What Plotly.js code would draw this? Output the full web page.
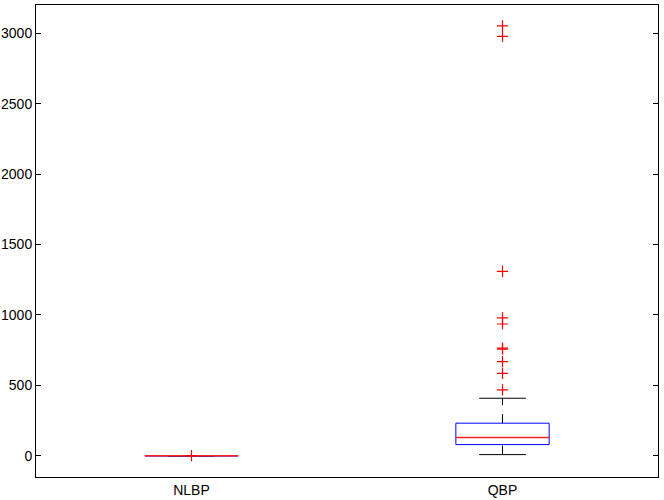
<!DOCTYPE html>
<html>
<head>
<meta charset="utf-8">
<script src="https://cdn.plot.ly/plotly-3.0.1.min.js"></script>
<style>
  html, body { margin: 0; padding: 0; background: #ffffff; }
  #plot { width: 664px; height: 500px; }
</style>
</head>
<body>
<div id="plot"></div>
<script>
const categories = ['NLBP', 'QBP'];
const positions = [1, 2];
const lowerWhisker = [0, 9];
const q1 = [0, 80];
const median = [0, 130];
const q3 = [0, 232];
const upperWhisker = [0, 409];
const outliers = [
  [2],
  [3052, 2977, 1310, 979, 936, 765, 757, 669, 586, 468],
];

const boxHalf = 0.15;
const capHalf = 0.075;

// line segments for one element type, separated by nulls
function segments(build) {
  const x = [];
  const y = [];
  positions.forEach((pos, i) => {
    build(pos, i).forEach((seg) => {
      x.push(...seg.x, null);
      y.push(...seg.y, null);
    });
  });
  return { x, y };
}

const whiskers = segments((pos, i) => [
  { x: [pos, pos], y: [q3[i], upperWhisker[i]] },
  { x: [pos, pos], y: [lowerWhisker[i], q1[i]] },
]);
const caps = segments((pos, i) => [
  { x: [pos - capHalf, pos + capHalf], y: [upperWhisker[i], upperWhisker[i]] },
  { x: [pos - capHalf, pos + capHalf], y: [lowerWhisker[i], lowerWhisker[i]] },
]);
const boxes = segments((pos, i) => [
  {
    x: [pos - boxHalf, pos + boxHalf, pos + boxHalf, pos - boxHalf, pos - boxHalf],
    y: [q1[i], q1[i], q3[i], q3[i], q1[i]],
  },
]);
const medians = segments((pos, i) => [
  { x: [pos - boxHalf, pos + boxHalf], y: [median[i], median[i]] },
]);
const outlierX = [];
const outlierY = [];
positions.forEach((pos, i) => {
  outliers[i].forEach((v) => {
    outlierX.push(pos);
    outlierY.push(v);
  });
});

const traces = [
  { ...whiskers, mode: 'lines', line: { color: '#000000', width: 1, dash: 'dash' } },
  { ...caps, mode: 'lines', line: { color: '#000000', width: 1 } },
  { ...boxes, mode: 'lines', line: { color: '#0000ff', width: 1 } },
  { ...medians, mode: 'lines', line: { color: '#ff2020', width: 1.5 } },
  {
    x: outlierX,
    y: outlierY,
    mode: 'markers',
    marker: {
      symbol: 'cross-thin-open',
      size: 8,
      color: '#ff0000',
      line: { color: '#ff0000', width: 1.2 },
    },
  },
];

Plotly.newPlot('plot', traces, {
  width: 664,
  height: 500,
  paper_bgcolor: '#ffffff',
  plot_bgcolor: '#ffffff',
  showlegend: false,
  hovermode: false,
  margin: { l: 36, r: 6, t: 5, b: 23 },
  font: { family: 'Liberation Sans, Arial, sans-serif', size: 14, color: '#000000' },
  xaxis: {
    range: [0.5, 2.5],
    tickvals: positions,
    ticktext: categories,
    ticks: '',
    showgrid: false,
    zeroline: false,
    showline: true,
    mirror: true,
    linecolor: '#000000',
    linewidth: 1,
  },
  yaxis: {
    range: [-150, 3200],
    tickvals: [0, 500, 1000, 1500, 2000, 2500, 3000],
    ticks: 'inside',
    ticklen: 5,
    tickcolor: '#000000',
    showgrid: false,
    zeroline: false,
    showline: true,
    mirror: 'ticks',
    linecolor: '#000000',
    linewidth: 1,
  },
}, { displayModeBar: false, staticPlot: true });
</script>
</body>
</html>
